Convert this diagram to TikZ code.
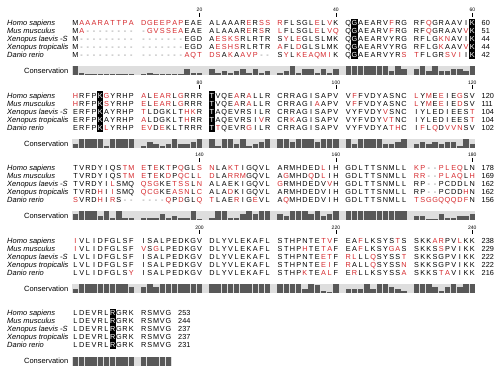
\documentclass[tikz,border=0pt]{standalone}
\usepackage{fontspec}
\setmainfont{Liberation Sans}
\definecolor{resred}{RGB}{214,40,44}
\definecolor{gapgray}{RGB}{120,120,120}
\definecolor{bandbg}{RGB}{222,222,222}
\definecolor{barfg}{RGB}{88,88,88}
\newcount\colidx
\newif\ifboxnext
\def\xo{75.5}
\def\cw{6.2}
\def\seqrow#1#2{\def\rowy{#1}\global\colidx=0 \global\boxnextfalse\seqloop#2\relax}
\def\seqloop#1{\ifx#1\relax\let\seqnext\relax\else\def\seqnext{\seqchar#1\seqloop}\fi\seqnext}
\def\seqchar#1{\ifx#1*\global\boxnexttrue\let\seqact\relax\else\def\seqact{\putres#1}\fi\seqact}
\def\putres#1{%
  \global\advance\colidx by 1
  \pgfmathsetmacro\resx{\xo+(\the\colidx-1)*\cw+floor((\the\colidx-1)/10)*\cw}%
  \ifnum`#1>96 \def\rescol{resred}\else\def\rescol{black}\fi
  \ifx#1-\def\rescol{gapgray}\fi
  \ifboxnext\global\boxnextfalse
    \def\resact{\fill[black] (\resx-3.1,\rowy-4.05) rectangle (\resx+3.1,\rowy+4.05);\node[resch,text=white] at (\resx,\rowy+2.6) {#1};}%
  \else
    \def\resact{\node[resch,text=\rescol] at (\resx,\rowy+2.6) {\uppercase{#1}};}%
  \fi
  \resact}
\def\consrow#1#2{\def\bandtop{#1}\global\colidx=0 \consloop#2\relax}
\def\consloop#1{\ifx#1\relax\let\consnext\relax\else\def\consnext{\consbar#1\consloop}\fi\consnext}
\def\consbar#1{\global\advance\colidx by 1
  \pgfmathsetmacro\resx{\xo+(\the\colidx-1)*\cw+floor((\the\colidx-1)/10)*\cw}%
  \fill[barfg] (\resx-2.75,\bandtop+9) rectangle (\resx+2.75,\bandtop+9-#1);}
\newcommand\namesat[1]{%
  \foreach \nm [count=\j from 0] in {Homo sapiens,Mus musculus,Xenopus laevis -S,Xenopus tropicalis,Danio rerio}{%
    \node[namelab] at (7,#1+8*\j+2.6) {\nm};}%
  \node[conslab] at (68.5,#1+48+2.6) {Conservation};}
\newcommand\numsat[7]{\node[numlab] at (#1,#2+2.6){#3};\node[numlab] at (#1,#2+10.6){#4};\node[numlab] at (#1,#2+18.6){#5};\node[numlab] at (#1,#2+26.6){#6};\node[numlab] at (#1,#2+34.6){#7};}
\newcommand\tickset[2]{\foreach \tk in {20,40,60}{\pgfmathsetmacro\tx{\xo+(\tk-1)*\cw+floor((\tk-1)/10)*\cw}\pgfmathtruncatemacro\tl{\tk+#2}\draw[tickline] (\tx,#1-10) -- (\tx,#1-6.3);\node[ticklab] at (\tx,#1-11.2) {\tl};}}
\begin{document}
\begin{tikzpicture}[x=1pt,y=-1pt,
  resch/.style={inner sep=0pt,anchor=base,font=\fontsize{7.3}{8}\selectfont},
  namelab/.style={inner sep=0pt,anchor=base west,font=\fontsize{7.5}{9}\selectfont\itshape},
  conslab/.style={inner sep=0pt,anchor=base east,font=\fontsize{7.5}{9}\selectfont},
  numlab/.style={inner sep=0pt,anchor=base west,font=\fontsize{7.3}{8}\selectfont},
  ticklab/.style={inner sep=0pt,anchor=base,font=\fontsize{5}{6}\selectfont},
  tickline/.style={line width=0.45pt}]
\fill[white] (0,0) rectangle (500,371);
\useasboundingbox (0,0) rectangle (500,371);
% ---------------- Block 1
\namesat{23}
\tickset{23}{0}
\fill[bandbg] (72.4,66.5) rectangle (475.4,75.5);
\consrow{66.5}{9211111111 1211111622 6242462624 2492662626 9999999496 6949446649}
\seqrow{23}{Maaarattpa dgeepapEAE ALAAAReRss rFLSGLeLvK Q*GAEARVfRG RFqGRAAVI*K}
\seqrow{31}{Ma-------- -gvsseaEAE ALAAAReRsR lFLSGLeLvq Q*GAEARVfRG RFqGRAAVv*K}
\seqrow{39}{M--------- -------EGD AesksRLRTR SyLeGLSLMK Q*GAEARVYRG RFLGknAVI*K}
\seqrow{47}{M--------- -------EGD AeshsRLRTR aFLdGLSLMK Q*GAEARVYRG RFLGkAAVv*K}
\seqrow{55}{M--------- -------aqt dsAkAavp-- SyLkeaqmiK Q*GAEARVYRs tFLGRsviI*K}
\numsat{481.5}{23}{60}{51}{44}{44}{42}
% ---------------- Block 2
\namesat{95.5}
\tickset{95.5}{60}
\fill[bandbg] (72.4,139) rectangle (475.4,148);
\consrow{139}{4999929999 2642494469 9299492469 9969996999 9499994469 4646466294}
\seqrow{95.5}{hRFP*KgYRHP aLearLgRRR *TVQEaRaLLR CRRAGISAPV VfFVDYASNC lYmEeIEgSV}
\seqrow{103.5}{hRFP*KsYRHP eLearLgRRR *TVQEaRaLLR CRRAGIaAPV VfFVDYASNC lYmEeIEdSV}
\seqrow{111.5}{ERFP*KAYRHP tLDGKLThkR *TAQEVRSILR CRRAGISAPV VYFVDYvSNC IYLEDIEESt}
\seqrow{119.5}{ERFP*KAYRHP aLDGKLThRR *TAQEVRSIvR CRkAGISAPV VYFVDYvtNC IYLEDIEESt}
\seqrow{127.5}{ERFP*KlYRHP evDeKLTRRR *TtQEVRgILR CRRAGISAPV VYFVDYAthC IfLqDvvnSV}
\numsat{481.5}{95.5}{120}{111}{104}{104}{102}
% ---------------- Block 3
\namesat{168}
\tickset{168}{120}
\fill[bandbg] (72.4,211.5) rectangle (475.4,220.5);
\consrow{211.5}{6999492922 2226242291 2992269699 6499969469 9999999999 4411622446}
\seqrow{168}{TVRDYIQStm eTeKtPqGLs nLAktIGQVL ARMHDEDlIH GDLTTSNMLL kp--pleqLN}
\seqrow{176}{TVRDYIQStm eTeKdPqcLl dLArrmGQVL AgMHDqDlIH GDLTTSNMLL rr--plaqLh}
\seqrow{184}{TVRDYIlSMQ qsgKEtssLn ALAEKIGQVL gRMHDEDVvH GDLTTSNMLL RP--PCDDLN}
\seqrow{192}{TVRDhIiSMQ qcgKEasnLc ALAdKIGQVL ARMHDEDVIH GDLTTSNMLL RP--PCDDhN}
\seqrow{200}{sVRDhIrS-- ----qPdGLq tLAErIGeVL AqMHDEDVIH GDLTTSNMLL tsggqqqdfN}
\numsat{481.5}{168}{178}{169}{162}{162}{156}
% ---------------- Block 4
\namesat{240.5}
\tickset{240.5}{180}
\fill[bandbg] (72.4,284) rectangle (475.4,293);
\consrow{284}{4999999996 6969999999 9999999999 9999498219 4449499642 9996269699}
\seqrow{240.5}{iVLIDFGLSF ISALPEDKGV DLYVLEKAFL STHPNTEtvF EAfLKSYStS SKKarPVlKK}
\seqrow{248.5}{iVLIDFGLSF vSgLPEDKGV DLYVLEKAFL STHPhTEtaF EAfLKSYgaS SKKSsPVIKK}
\seqrow{256.5}{LVLIDFGLSF ISALPEDKGV DLYVLEKAFL STHPNTEetF rlLLqSYSSt SKKSGPVIKK}
\seqrow{264.5}{LVLIDFGLSF ISALPEDKGV DLYVLEKAFL STHPNTEeiF rALLqSYSSn SKKSGPVIKK}
\seqrow{272.5}{LVLIDFGLSy ISALPEDKGV DLYVLEKAFL STHPkTEalF ErLLKSYSSa SKKStaVIKK}
\numsat{481.5}{240.5}{238}{229}{222}{222}{216}
% ---------------- Block 5
\namesat{313}
\fill[bandbg] (72.4,356.5) rectangle (171.6,365.5);
\consrow{356.5}{9999999999 99999}
\seqrow{313}{LDEVRL*RGRK RSMVG}
\seqrow{321}{LDEVRL*RGRK RSMVG}
\seqrow{329}{LDEVRL*RGRK RSMVG}
\seqrow{337}{LDEVRL*RGRK RSMVG}
\seqrow{345}{LDEVRL*RGRK RSMVG}
\numsat{178}{313}{253}{244}{237}{237}{231}
\end{tikzpicture}
\end{document}
